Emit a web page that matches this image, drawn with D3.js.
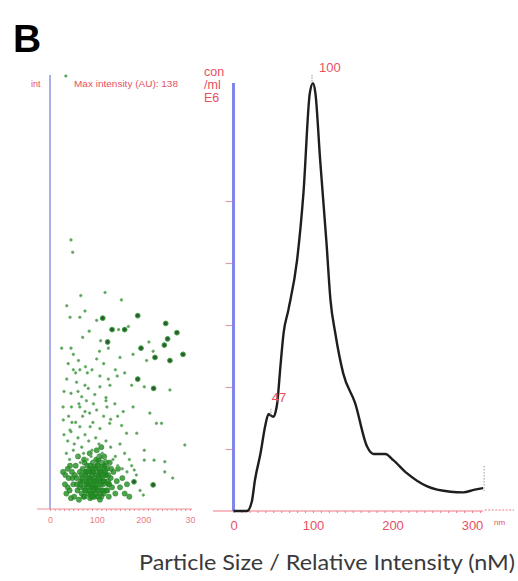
<!DOCTYPE html>
<html><head><meta charset="utf-8">
<script src="https://cdn.jsdelivr.net/npm/d3@7/dist/d3.min.js"></script>
<style>html,body{margin:0;padding:0;background:#fff}svg{display:block}</style>
</head><body>
<script>
// ---- data ----
const sizeTicks = [0, 100, 200, 300];
const sizeTickLabels = ["0", "100", "200", "30"];
const concTicks = [1, 2, 3, 4, 5];
// size distribution (nm, concentration E6/ml)
const curveSize = [0,17,23,27,34,40,44,50,53,55,59,63,69,80,88,96,100,103,109,117,122,128,138,153,168,176,191,201,218,243,273,289,302,314];
const curveConc = [0,0,0.15,0.5,0.93,1.38,1.56,1.52,1.6,1.74,2.33,2.87,3.24,4.05,5.13,6.74,6.9,6.74,5.66,4.32,3.4,2.87,2.22,1.74,1.04,0.92,0.92,0.82,0.61,0.40,0.31,0.30,0.34,0.37];
const peakLabels = [{size:100, text:"100"}, {size:47, text:"47"}];
// scatter: size (nm), intensity (AU)
const bigX = [113,188,133,160,123.5,195,248,272,252,245,285,257,225,188,222,221,180];
const bigY = [61.7,62.5,58,58,54,52,60,57,55,53,50,48,49,42,39,7.8,8.8];
const dotX = [66,118,153,36,75,43,64,100,84,70,108.5,147,168,25,45,106,125,212,221,150,178,207,50,61,39,76,100,50,64,80,107,125,144,36,57,82,96,107,128.5,175,202,257,45,68,46,64,75,93,120,139,157,178,214,228,239,28.5,43,64,86,107,128,153.5,164,186,289,246,246,263,202,223,202,193,200,180.5,45,48.6,34,
 30,55,90,115,140,160,75,120,60,28,40,55,70,85,100,115,130,145,62,92,122,47,78,
 30,38,45,52,60,68,75,83,90,98,105,112,120,130,140,150,160,170,35,42,50,58,65,72,80,88,95,103,110,118,126,135,145,155,165,175,185];
const dotY = [69,70,67.6,65.7,64,62,62,61,57.5,55.5,54.4,58,59,52,52,51,52,54,51,49,50,48,50,48,47,46,48.5,45,45,44,43,42,43,42,41,39,37,39.5,40,40,39.5,38.5,37.4,36.3,33,33,31.5,34,35,34,31.5,33,31,27.7,27.7,28.8,25.5,26.6,26.6,26,27.7,27,24.5,24.5,20.7,15.3,12,10,15.8,15.8,19,6,4.5,12.6,87,83,140,
 38,44,45,47,45,44,40,36,38,33,30,28,30,31,32,30,29,30,34,28,33,28,35,
 24,22,25,21,23,20,24,22,19,23,21,18,22,20,17,21,18,16,18,16,19,17,15,18,16,17,15,17,15,16,14,16,14,13,12,14,11];
const coreX = [
 28,32,35,38,40,42,45,47,50,52,55,57,59,62,64,66,68,70,72,74,76,78,80,82,84,86,88,90,92,94,96,98,100,102,104,106,108,110,112,114,116,118,120,122,124,126,128,130,133,136,140,143,146,150,155,160,165,170,60,85,100,110,95,105,115,125,88,78,68,58,48,38,97,107,117,92,82,73,64,53,43,33,
 87,93,99,104,109,91,97,103,108,113,86,96,106,116,101,111,94,84,79,89,
 70,75,80,85,90,95,100,105,110,115,120,125,72,77,83,88,93,98,103,108,113,118,123,74,81,86,91,99,106,111,117,121,65,69,127,131,76,84,92,102,114];
const coreY = [
 12,8,5,13,10,6,3.5,12,8,4,14,10,6,3,12,9,5,13,7,4,11,8,14,5,10,3.5,12,7,15,9,4,13,11,6,16,9,12,4,14,8,17,11,6,13,9,4,15,10,7,12,5,9,13,7,10,5,8,4,17,18,19,20,10,13,5,11,5,12,11,8,10,7,7,3,14,12,8,16,7,11,14,11,
 10,12,9,11,8,7,6,7,10,9,13,14,12,9,15,6,8,6,9,4,
 9,6,10,8,11,9,8,10,12,9,11,8,4,12,7,5,6,5,4,5,6,12,6,15,12,14,13,16,17,15,13,15,8,10,8,13,6,9,4,14,11];

// ---- layout ----
const W = 518, H = 581;
const svg = d3.select("body").append("svg").attr("width", W).attr("height", H);
const red = "#e8505f";

svg.append("text").attr("x", 13).attr("y", 52).text("B")
  .attr("font-family", "Liberation Sans, Arial, sans-serif").attr("font-weight", "bold")
  .attr("font-size", 39).attr("fill", "#000");

// ---- left scatter panel ----
const xL = d3.scaleLinear().domain([0, 300]).range([50, 190]);
const yL = d3.scaleLinear().domain([0, 140]).range([509, 76]);
const gL = svg.append("g");
gL.append("line").attr("x1", xL(0)).attr("x2", xL(0)).attr("y1", 75).attr("y2", 509)
  .attr("stroke", "#a9afe9").attr("stroke-width", 2);
gL.append("line").attr("x1", 37).attr("x2", 192).attr("y1", 509).attr("y2", 509)
  .attr("stroke", "#f08a96").attr("stroke-width", 1.2);
gL.append("g").attr("transform", "translate(0,509)")
  .call(d3.axisBottom(xL).tickValues(d3.range(0, 301, 10)).tickSize(2).tickFormat(""))
  .call(g => { g.select(".domain").remove(); g.selectAll("line").attr("stroke", "#f08a96"); });
gL.append("g").attr("transform", "translate(0,509)")
  .call(d3.axisBottom(xL).tickValues(sizeTicks).tickSize(0).tickPadding(8).tickFormat((d, i) => sizeTickLabels[i]))
  .call(g => { g.select(".domain").remove();
    g.selectAll("text").attr("fill", "#f07a86").attr("font-size", 9).attr("font-family", "Liberation Sans, Arial, sans-serif"); });
gL.append("text").attr("x", 31).attr("y", 87).text("int").attr("fill", red)
  .attr("font-size", 9).attr("font-family", "Liberation Sans Narrow, Liberation Sans, sans-serif");
gL.append("text").attr("x", 74).attr("y", 87).text("Max intensity (AU): 138").attr("fill", red)
  .attr("font-size", 9).attr("textLength", 104).attr("lengthAdjust", "spacingAndGlyphs")
  .attr("font-family", "Liberation Sans Narrow, Liberation Sans, sans-serif");

const dots = gL.append("g");
dots.selectAll("circle.core").data(coreX).join("circle").attr("class", "core")
  .attr("cx", (d) => xL(d)).attr("cy", (d, i) => yL(coreY[i])).attr("r", 2.6)
  .attr("fill", "#1f8f1f").attr("fill-opacity", 0.8).attr("stroke", "#2a7a2a").attr("stroke-width", 0.5);
dots.selectAll("circle.dot").data(dotX).join("circle").attr("class", "dot")
  .attr("cx", (d) => xL(d)).attr("cy", (d, i) => yL(dotY[i])).attr("r", 1.3)
  .attr("fill", "#6f8a70").attr("stroke", "#66c266").attr("stroke-width", 0.7);
dots.selectAll("circle.big").data(bigX).join("circle").attr("class", "big")
  .attr("cx", (d) => xL(d)).attr("cy", (d, i) => yL(bigY[i])).attr("r", 2.4)
  .attr("fill", "#2f5a35").attr("stroke", "#3faa3f").attr("stroke-width", 1);

// ---- right distribution panel ----
const xR = d3.scaleLinear().domain([0, 300]).range([233.5, 472]);
const yR = d3.scaleLinear().domain([0, 7]).range([511, 77]);
const gR = svg.append("g");
gR.append("line").attr("x1", 213).attr("x2", xR(314)).attr("y1", 511).attr("y2", 511)
  .attr("stroke", "#f07a86").attr("stroke-width", 1.2);
gR.append("line").attr("x1", xR(316)).attr("x2", 514).attr("y1", 510).attr("y2", 510)
  .attr("stroke", "#f07a86").attr("stroke-width", 1).attr("stroke-dasharray", "2,1.5");
gR.append("g").attr("transform", "translate(0,511)")
  .call(d3.axisBottom(xR).tickValues(d3.range(0, 311, 10)).tickSize(2).tickFormat(""))
  .call(g => { g.select(".domain").remove(); g.selectAll("line").attr("stroke", "#f07a86"); });
gR.append("g").attr("transform", "translate(0,511)")
  .call(d3.axisBottom(xR).tickValues(sizeTicks).tickSize(0).tickPadding(10).tickFormat(d3.format("d")))
  .call(g => { g.select(".domain").remove();
    g.selectAll("text").attr("fill", red).attr("font-size", 13).attr("font-family", "Liberation Sans, Arial, sans-serif"); });
gR.append("text").attr("x", 494).attr("y", 525).text("nm").attr("fill", red)
  .attr("font-size", 8).attr("font-family", "Liberation Sans, Arial, sans-serif");
gR.append("g").attr("transform", "translate(233.5,0)")
  .call(d3.axisLeft(yR).tickValues(concTicks).tickSize(8).tickFormat(""))
  .call(g => { g.select(".domain").remove(); g.selectAll("line").attr("stroke", "#d8a0a8").attr("stroke-width", 1.2); });
gR.append("line").attr("x1", 233.5).attr("x2", 233.5).attr("y1", 83).attr("y2", 511)
  .attr("stroke", "#7f88e8").attr("stroke-width", 3);
["con", "/ml", "E6"].forEach((t, i) => {
  gR.append("text").attr("x", 204).attr("y", 76 + i * 13).text(t).attr("fill", red)
    .attr("font-size", 12.5).attr("font-family", "Liberation Sans, Arial, sans-serif");
});

const line = d3.line().x((d) => xR(d)).y((d, i) => yR(curveConc[i])).curve(d3.curveMonotoneX);
gR.append("path").datum(curveSize).attr("d", line).attr("fill", "none")
  .attr("stroke", "#1e1e1e").attr("stroke-width", 2.4).attr("stroke-linejoin", "round");

// markers
gR.append("line").attr("x1", xR(100) - 1).attr("x2", xR(100) - 1).attr("y1", 75).attr("y2", yR(6.9))
  .attr("stroke", "#999").attr("stroke-width", 1).attr("stroke-dasharray", "1.5,1");
gR.append("line").attr("x1", xR(47)).attr("x2", xR(47)).attr("y1", yR(1.52) - 8).attr("y2", yR(1.52))
  .attr("stroke", "#999").attr("stroke-width", 1).attr("stroke-dasharray", "1.5,1");
gR.append("line").attr("x1", xR(314) + 1).attr("x2", xR(314) + 1).attr("y1", yR(0.37) - 22).attr("y2", yR(0.37) + 3)
  .attr("stroke", "#999").attr("stroke-width", 1).attr("stroke-dasharray", "1.5,1.5");
gR.append("text").attr("x", xR(100) + 6).attr("y", 72).text(peakLabels[0].text).attr("fill", red)
  .attr("font-size", 13).attr("font-family", "Liberation Sans, Arial, sans-serif");
gR.append("text").attr("x", xR(47) + 1).attr("y", 402).text(peakLabels[1].text).attr("fill", red)
  .attr("font-size", 13).attr("font-family", "Liberation Sans, Arial, sans-serif");

// ---- bottom title ----
svg.append("text").attr("x", 139).attr("y", 570).text("Particle Size / Relative Intensity (nM)")
  .attr("fill", "#3a3a3a").attr("font-size", 22).attr("textLength", 376).attr("lengthAdjust", "spacingAndGlyphs")
  .attr("font-family", "Lato, Open Sans, sans-serif");
</script>
</body></html>
